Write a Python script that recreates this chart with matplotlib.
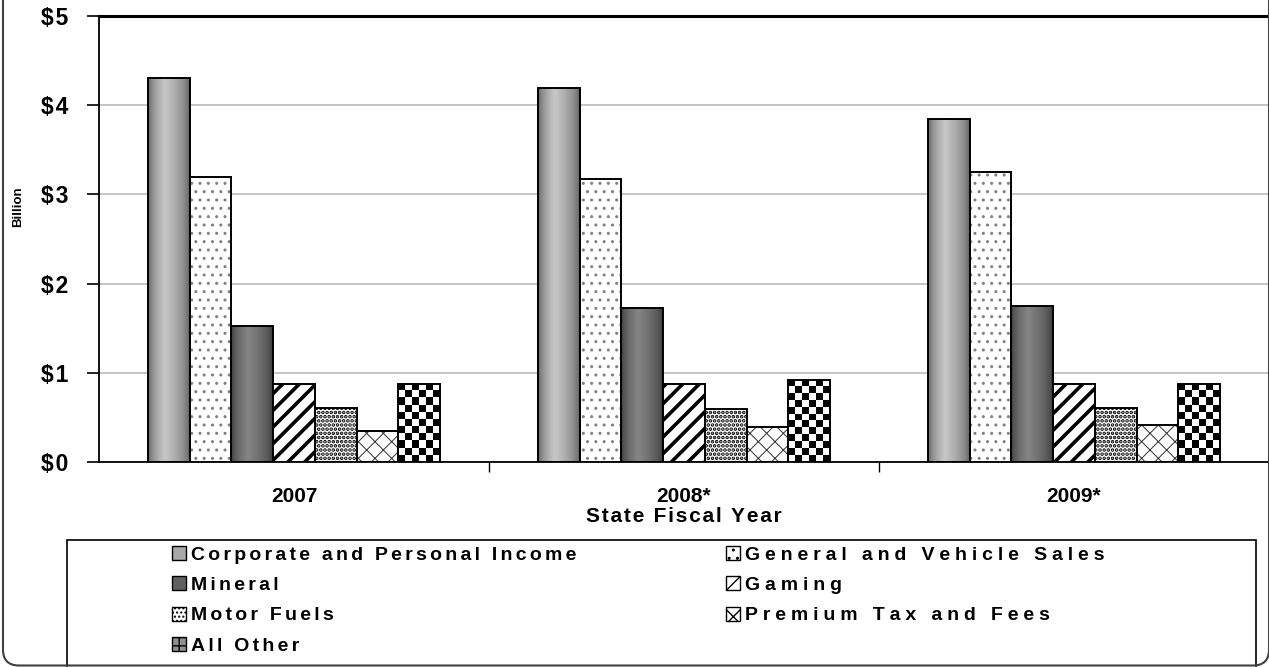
import numpy as np
import matplotlib.pyplot as plt
from matplotlib.patches import Patch, Rectangle, FancyBboxPatch
from matplotlib.transforms import IdentityTransform

plt.rcParams['font.family'] = ['Liberation Sans', 'DejaVu Sans']
plt.rcParams['font.weight'] = 'bold'

years = ['2007', '2008*', '2009*']
series = ['Corporate and Personal Income', 'General and Vehicle Sales', 'Mineral',
          'Gaming', 'Motor Fuels', 'Premium Tax and Fees', 'All Other']
corporate = [4.31, 4.19, 3.85]
general = [3.20, 3.17, 3.25]
mineral = [1.52, 1.73, 1.75]
gaming = [0.88, 0.87, 0.88]
motor = [0.61, 0.59, 0.61]
premium = [0.35, 0.39, 0.41]
other = [0.88, 0.92, 0.88]
values = [corporate, general, mineral, gaming, motor, premium, other]
yticks = [0, 1, 2, 3, 4, 5]

W, H = 1269, 667


def spaced(s, gap='\u200a'):
    return gap.join(s)


def hatch_lw(patch, lw):
    if hasattr(patch, 'set_hatch_linewidth'):
        patch.set_hatch_linewidth(lw)


def cylinder(dark, light, n=60):
    # dark edges, bright band a bit left of centre
    t = np.linspace(0, 1, n)
    peak = 0.4
    d = np.where(t < peak, t / peak, (1 - t) / (1 - peak))
    v = dark + (light - dark) * np.sqrt(np.clip(d, 0, 1))
    return v[None, :]


fig = plt.figure(figsize=(W / 100, H / 100), dpi=100)
ax = fig.add_axes([99 / W, 1 - 462 / H, 1170 / W, 446 / H])

x = np.arange(len(years))
n = len(series)
w = 0.75 / n
hatches = [None, '..', None, '//', '....', 'xx', None]
hatch_widths = [1, 1.0, 1, 2.6, 1.8, 0.7, 1]
hatch_cols = ['black', '#808080', 'black', 'black', 'black', '#303030', 'black']

for i, vals in enumerate(values):
    xpos = x + (i - (n - 1) / 2) * w
    if hatches[i]:
        hb = ax.bar(xpos, vals, w, color='white', edgecolor=hatch_cols[i],
                    linewidth=0, hatch=hatches[i], zorder=2.6)
        for b in hb:
            hatch_lw(b, hatch_widths[i])
    bars = ax.bar(xpos, vals, w, color='none', edgecolor='black',
                  linewidth=1.4, zorder=3)
    for b in bars:
        x0, y0 = b.get_x(), b.get_y()
        bw, bh = b.get_width(), b.get_height()
        ext = [x0, x0 + bw, y0, y0 + bh]
        im = None
        if i == 0:
            im = ax.imshow(cylinder(0.33, 0.78), cmap='gray', vmin=0, vmax=1,
                           extent=ext, aspect='auto', zorder=2.5, interpolation='bilinear')
        elif i == 2:
            im = ax.imshow(cylinder(0.2, 0.52), cmap='gray', vmin=0, vmax=1,
                           extent=ext, aspect='auto', zorder=2.5, interpolation='bilinear')
        elif i == 6:
            rows = max(1, int(round(bh / 0.079)))
            rr, cc = np.mgrid[0:rows, 0:6]
            board = ((rr + cc) % 2).astype(float)
            im = ax.imshow(board, cmap='gray', vmin=0, vmax=1, extent=ext,
                           aspect='auto', zorder=2.5, interpolation='nearest')
        if im is not None:
            im.set_clip_path(b)

ax.set_xlim(-0.5, 2.5)
ax.set_ylim(0, 5)
ax.set_aspect('auto')

ax.set_yticks(yticks)
ax.set_yticklabels([spaced('$' + str(v)) for v in yticks], fontsize=16.5, fontweight='bold')
ax.tick_params(axis='y', length=9, width=1.2, pad=13, colors='black', direction='out')
ax.yaxis.grid(True, color='#c0c0c0', linewidth=1.3, zorder=0)
ax.set_axisbelow(True)

ax.set_xticks(x)
ax.set_xticklabels(years, fontsize=15, fontweight='bold')
ax.tick_params(axis='x', length=0, pad=18)
ax.set_xticks([0.5, 1.5], minor=True)
ax.tick_params(axis='x', which='minor', length=7, width=1, direction='out')

for s in ['left', 'bottom']:
    ax.spines[s].set_linewidth(1.3)
ax.spines['top'].set_linewidth(2.2)
ax.spines['right'].set_visible(False)

fig.text(684 / W, 1 - 516 / H, spaced('State Fiscal Year'), ha='center', va='center',
         fontsize=15, fontweight='bold')
fig.text(18 / W, 1 - 207 / H, 'Billion', rotation=90, ha='center', va='center',
         fontsize=9.5, fontweight='bold')

# legend, laid out as two columns like the original
fills = ['#a8a8a8', 'white', '#606060', 'white', 'white', 'white', '#909090']
handles = [Patch(facecolor=fills[i], edgecolor='black', hatch=hatches[i] if i != 6 else '++',
                 linewidth=1.0, label=spaced(series[i], '\u200a\u200a')) for i in range(n)]
col1 = [handles[0], handles[2], handles[4], handles[6]]
col2 = [handles[1], handles[3], handles[5]]
for hs, xpos, gap in [(col1, 172, '\u200a\u200a'), (col2, 726, '\u200a\u200a\u200a')]:
    fig.legend(handles=hs, labels=[spaced(h.get_label().replace('\u200a', ''), gap) for h in hs],
               loc='upper left', bbox_to_anchor=(xpos / W, 1 - 546 / H),
               frameon=False, borderpad=0, borderaxespad=0,
               handlelength=0.7, handleheight=0.7, handletextpad=0.3,
               labelspacing=0.66, prop={'weight': 'bold', 'size': 14})

fig.add_artist(Rectangle((67, -30), 1256 - 67, 30 + H - 540, fill=False,
                         edgecolor='black', linewidth=1.2, transform=IdentityTransform()))
fig.add_artist(FancyBboxPatch((3, 1.5), 1266, 720, boxstyle='round,pad=0,rounding_size=16',
                              fill=False, edgecolor='#404040', linewidth=1.5,
                              transform=IdentityTransform()))

fig.savefig('out.png', dpi=100)
